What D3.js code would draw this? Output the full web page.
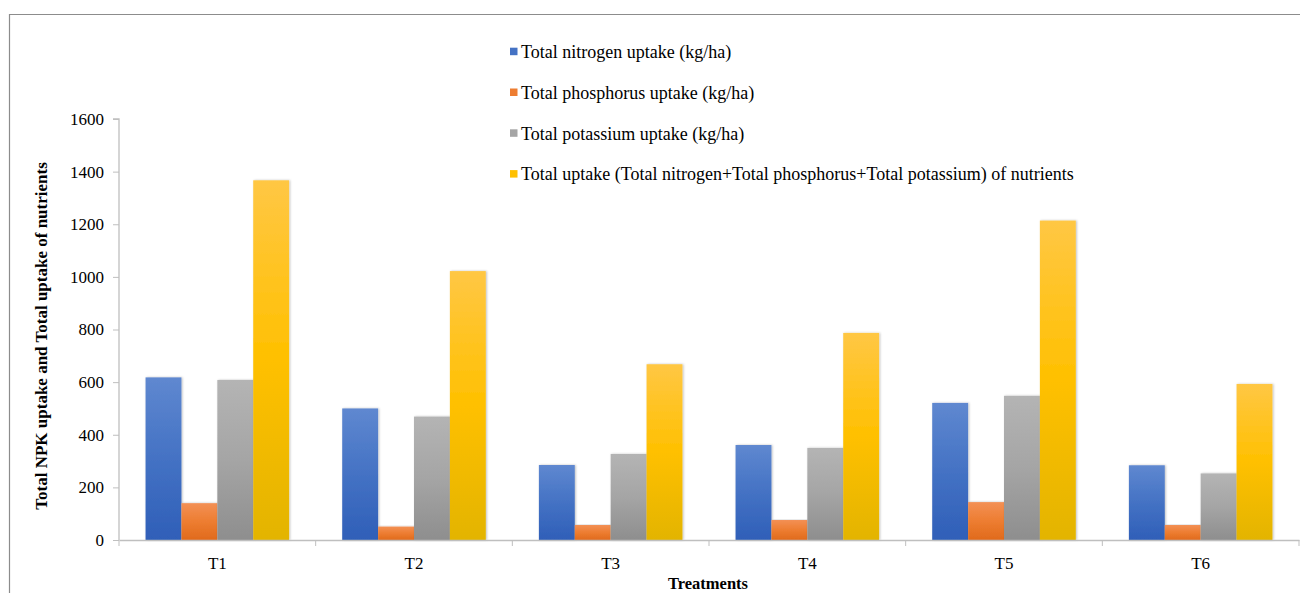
<!DOCTYPE html>
<html>
<head>
<meta charset="utf-8">
<script src="https://cdn.jsdelivr.net/npm/d3@7"></script>
<style>
  html, body { margin: 0; padding: 0; background: #fff; }
  svg { display: block; }
</style>
</head>
<body>
<div class="barchart"></div>
<script>
const categories = ["T1", "T2", "T3", "T4", "T5", "T6"];
const seriesNames = [
  "Total nitrogen uptake (kg/ha)",
  "Total phosphorus uptake (kg/ha)",
  "Total potassium uptake (kg/ha)",
  "Total uptake (Total nitrogen+Total phosphorus+Total potassium) of nutrients"
];
const nitrogen   = [618, 500, 285, 361, 521, 284];
const phosphorus = [140, 51, 57, 76, 144, 57];
const potassium  = [608, 469, 327, 350, 548, 253];
const totalUptake = [1367, 1022, 668, 787, 1214, 593];
const yTicks = [0, 200, 400, 600, 800, 1000, 1200, 1400, 1600];

const width = 1300;
const height = 593;
const margin = { top: 119, right: 1, bottom: 53, left: 119 };
const serif = "'Liberation Serif', 'Times New Roman', serif";

const svg = d3.select(".barchart")
    .append("svg")
    .attr("width", width)
    .attr("height", height)
    .attr("viewBox", [0, 0, width, height]);

// outer frame (top + left visible)
svg.append("path")
    .attr("d", `M9.5,${height} V14.5 H${width}`)
    .attr("fill", "none")
    .attr("stroke", "#8c8c8c")
    .attr("stroke-width", 1.2);

// gradients like the office fills
const defs = svg.append("defs");
const grads = [
  ["#5f88d0", "#4472c4", "#2f5fb8"],
  ["#f39055", "#ed7d31", "#e06a1c"],
  ["#b4b4b4", "#a5a5a5", "#8e8e8e"],
  ["#ffc744", "#ffc000", "#e3b400"]
];
grads.forEach((g, i) => {
  const lg = defs.append("linearGradient")
      .attr("id", "g" + i)
      .attr("x1", 0).attr("y1", 0).attr("x2", 0).attr("y2", 1);
  lg.append("stop").attr("offset", "0%").attr("stop-color", g[0]);
  lg.append("stop").attr("offset", "50%").attr("stop-color", g[1]);
  lg.append("stop").attr("offset", "100%").attr("stop-color", g[2]);
});
const shadow = defs.append("filter").attr("id", "sh")
    .attr("x", "-20%").attr("y", "-5%").attr("width", "140%").attr("height", "110%");
shadow.append("feDropShadow")
    .attr("dx", 1).attr("dy", 0).attr("stdDeviation", 1.2)
    .attr("flood-color", "#000").attr("flood-opacity", 0.25);

const legendColors = ["#4472c4", "#ed7d31", "#a5a5a5", "#ffc000"];
const seriesValues = [nitrogen, phosphorus, potassium, totalUptake];

const data = categories.map((c, i) => ({
  cat: c,
  values: seriesValues.map((s, j) => ({ key: j, value: s[i] }))
}));

const x0 = d3.scaleBand()
    .domain(categories)
    .range([margin.left, width - margin.right]);

const x1 = d3.scaleBand()
    .domain(d3.range(seriesNames.length))
    .range([x0.bandwidth() * 0.135, x0.bandwidth() * 0.865]);

const y = d3.scaleLinear()
    .domain([0, 1600])
    .range([height - margin.bottom, margin.top]);

// bars
const groups = svg.append("g").selectAll("g")
    .data(data)
    .enter().append("g")
    .attr("transform", d => `translate(${x0(d.cat)},0)`);

groups.selectAll("rect")
    .data(d => d.values)
    .enter().append("rect")
    .attr("x", d => x1(d.key))
    .attr("y", d => y(d.value))
    .attr("width", x1.bandwidth())
    .attr("height", d => y(0) - y(d.value))
    .attr("fill", d => `url(#g${d.key})`)
    .attr("filter", "url(#sh)");

// axes
const yAxis = d3.axisLeft(y)
    .tickValues(yTicks)
    .tickFormat(d3.format("d"))
    .tickSize(6)
    .tickPadding(9);

const gY = svg.append("g")
    .attr("transform", `translate(${margin.left},0)`)
    .call(yAxis);

const xAxis = d3.axisBottom(x0)
    .tickSize(0)
    .tickPadding(17);

const gX = svg.append("g")
    .attr("transform", `translate(0,${y(0)})`)
    .call(xAxis);

// category boundary ticks
gX.selectAll(".sep")
    .data(categories.concat(["end"]))
    .enter().append("line")
    .attr("class", "sep")
    .attr("x1", (d, i) => margin.left + i * x0.bandwidth())
    .attr("x2", (d, i) => margin.left + i * x0.bandwidth())
    .attr("y1", 0).attr("y2", 6)
    .attr("stroke", "#bfbfbf");

[gX, gY].forEach(g => {
  g.selectAll(".domain").attr("stroke", "#bfbfbf").attr("stroke-width", 1.3);
  g.selectAll(".tick line").attr("stroke", "#bfbfbf");
  g.selectAll("text")
      .attr("font-family", serif)
      .attr("font-size", 17)
      .attr("fill", "#000");
});
gY.select(".domain").attr("d", `M-6,${y(1600)}H0V${y(0)}`);

// axis titles
svg.append("text")
    .attr("transform", `translate(47,336) rotate(-90)`)
    .attr("text-anchor", "middle")
    .attr("font-family", serif)
    .attr("font-weight", "bold")
    .attr("font-size", 17)
    .text("Total NPK uptake and Total uptake of nutrients");

svg.append("text")
    .attr("x", 708)
    .attr("y", 589)
    .attr("text-anchor", "middle")
    .attr("font-family", serif)
    .attr("font-weight", "bold")
    .attr("font-size", 16.5)
    .text("Treatments");

// legend
const legend = svg.append("g").selectAll("g")
    .data(seriesNames)
    .enter().append("g")
    .attr("transform", (d, i) => `translate(510,${51.7 + i * 40.8})`);

legend.append("rect")
    .attr("x", 0).attr("y", -4)
    .attr("width", 7.5).attr("height", 7.5)
    .attr("fill", (d, i) => legendColors[i]);

legend.append("text")
    .attr("x", 11)
    .attr("y", 0)
    .attr("dy", "0.35em")
    .attr("font-family", serif)
    .attr("font-size", 18)
    .text(d => d);
</script>
</body>
</html>
